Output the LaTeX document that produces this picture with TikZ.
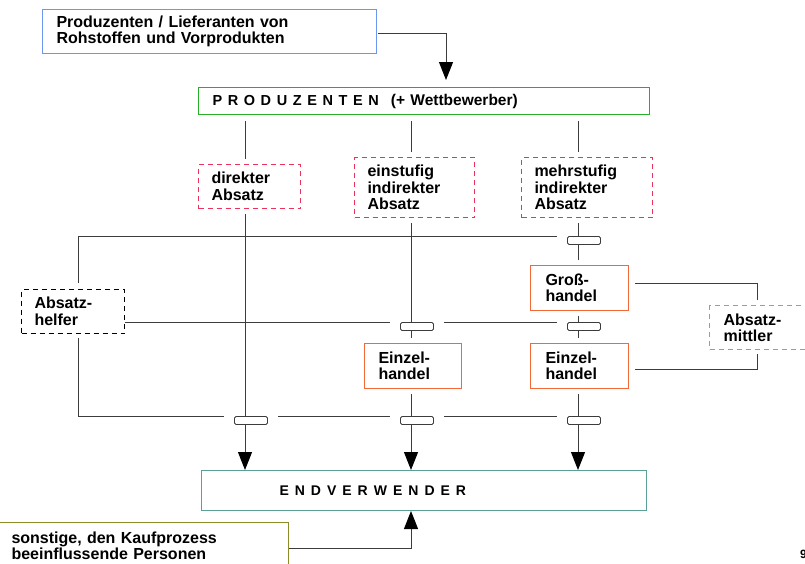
\documentclass[tikz,border=0pt]{standalone}
\usepackage{fontspec}
\setmainfont{Liberation Sans}
\usetikzlibrary{arrows.meta,backgrounds}

\definecolor{lineC}{RGB}{60,60,60}
\definecolor{supC}{RGB}{110,150,240}
\definecolor{prodC}{RGB}{40,175,40}
\definecolor{wayC}{RGB}{235,50,90}
\definecolor{tradeC}{RGB}{240,105,55}
\definecolor{agentC}{RGB}{245,125,80}
\definecolor{endC}{RGB}{90,160,150}
\definecolor{otherC}{RGB}{140,140,40}

% spaced capitals
\newcommand\lgap{\kern5.6pt}
\newcommand\egap{\kern6pt}

\begin{document}
\begin{tikzpicture}[x=1pt,y=-1pt,
  txt/.style={font=\fontsize{16}{16.5}\selectfont\bfseries},
  box/.style={txt, draw, line width=1pt, rectangle, anchor=north west,
    align=left, inner ysep=0pt, fill=white},
  dbox/.style={box, dash pattern=on 5pt off 4pt},
  gate/.style={draw=lineC, line width=0.9pt, fill=white, rounded corners=1.5pt,
    anchor=north west, minimum width=33pt, minimum height=8pt, inner sep=0pt},
  conn/.style={draw=lineC, line width=1pt},
  arr/.style={-{Triangle[length=18pt,width=14pt,color=black]}}]

\useasboundingbox (0,0) rectangle (805,563);

% boxes
\node[box, draw=supC, minimum width=334pt, minimum height=44pt, text width=306pt, inner xsep=14pt]
  (sup) at (42,9) {Produzenten / Lieferanten von\\Rohstoffen und Vorprodukten};
\node[box, draw=prodC, minimum width=451pt, minimum height=27pt, text width=423pt, inner xsep=14pt]
  (prod) at (198,87) {{\fontsize{14.5}{16}\selectfont P\lgap R\lgap O\lgap D\lgap U\lgap Z\lgap E\lgap N\lgap T\lgap E\lgap N}\hspace{12pt}{\fontsize{15.5}{16}\selectfont (+ Wettbewerber)}};

\node[dbox, draw=wayC, minimum width=102pt, minimum height=44pt, text width=76pt, inner xsep=13pt]
  (dir) at (198,164) {direkter\\Absatz};
\node[dbox, draw=wayC, minimum width=120pt, minimum height=60pt, text width=94pt, inner xsep=13pt]
  (ein) at (354,157) {einstufig\\indirekter\\Absatz};
\node[dbox, draw=wayC, minimum width=131pt, minimum height=60pt, text width=105pt, inner xsep=13pt]
  (mehr) at (521,157) {mehrstufig\\indirekter\\Absatz};

\node[dbox, draw=black, minimum width=103pt, minimum height=44pt, text width=77pt, inner xsep=13pt]
  (helfer) at (21,289) {Absatz-\\helfer};

\node[box, draw=tradeC, minimum width=98pt, minimum height=45pt, text width=68pt, inner xsep=15pt]
  (gross) at (530,265) {Groß-\\handel};
\node[box, draw=tradeC, minimum width=97pt, minimum height=45pt, text width=69pt, inner xsep=14pt]
  (ezm) at (364,343) {Einzel-\\handel};
\node[box, draw=tradeC, minimum width=98pt, minimum height=45pt, text width=68pt, inner xsep=15pt]
  (ezr) at (530,343) {Einzel-\\handel};

\node[dbox, draw=agentC, line width=1.2pt, minimum width=100pt, minimum height=44pt, text width=72pt, inner xsep=14pt]
  (mittler) at (709,305) {Absatz-\\mittler};

\node[box, draw=endC, minimum width=445pt, minimum height=40pt, text width=289pt, inner xsep=78pt]
  (end) at (201,470) {{\fontsize{14}{16}\selectfont E\egap N\egap D\egap V\egap E\egap R\egap W\egap E\egap N\egap D\egap E\egap R}};

\node[box, draw=otherC, minimum width=290pt, minimum height=47pt, text width=264pt, inner xsep=13pt]
  (sonst) at (-2,522) {sonstige, den Kaufprozess\\beeinflussende Personen};

\node[txt, font=\fontsize{12}{12}\selectfont\bfseries, anchor=base west, inner sep=0pt]
  (pg) at (800,558) {9};

% gates on the channel lines
\node[gate] (g1) at (567,236) {};
\node[gate] (g2) at (400,322) {};
\node[gate] (g3) at (567,322) {};
\node[gate] (g4) at (234,416) {};
\node[gate] (g5) at (400,416) {};
\node[gate] (g6) at (567,416) {};

% column and helper positions
\coordinate (c1) at (245,0);
\coordinate (c2) at (411,0);
\coordinate (c3) at (578,0);
\coordinate (hx) at (78,0);
\coordinate (mx) at (757,0);
\coordinate (ax) at (446,0);

\begin{scope}[on background layer]
  % supply into producers
  \draw[conn, arr, shorten <=1pt, shorten >=7pt] ([yshift=-2pt]sup.east) -| (prod.north -| ax);
  % direct channel
  \draw[conn, shorten <=6pt, shorten >=5pt] (prod.south -| c1) -- (dir.north -| c1);
  \draw[conn, arr, shorten <=5pt] (dir.south -| c1) -- (end.north -| c1);
  % one-stage channel
  \draw[conn, shorten <=6pt, shorten >=5pt] (prod.south -| c2) -- (ein.north -| c2);
  \draw[conn, shorten <=5pt, shorten >=5pt] (ein.south -| c2) -- (ezm.north -| c2);
  \draw[conn, arr, shorten <=5pt] (ezm.south -| c2) -- (end.north -| c2);
  % multi-stage channel
  \draw[conn, shorten <=6pt, shorten >=5pt] (prod.south -| c3) -- (mehr.north -| c3);
  \draw[conn, shorten <=5pt, shorten >=5pt] (mehr.south -| c3) -- (gross.north -| c3);
  \draw[conn, shorten <=5pt, shorten >=5pt] (gross.south -| c3) -- (ezr.north -| c3);
  \draw[conn, arr, shorten <=5pt] (ezr.south -| c3) -- (end.north -| c3);
  % sales helpers
  \draw[conn, shorten <=6pt, shorten >=10pt] (helfer.north -| hx) |- (g1.north west);
  \draw[conn, shorten >=10pt] (helfer.east |- g2.north) -- (g2.north west);
  \draw[conn, shorten <=10pt, shorten >=10pt] (g2.north east) -- (g3.north west);
  \draw[conn, shorten <=4pt, shorten >=10pt] (helfer.south -| hx) |- (g4.north west);
  \draw[conn, shorten <=10pt, shorten >=10pt] (g4.north east) -- (g5.north west);
  \draw[conn, shorten <=10pt, shorten >=10pt] (g5.north east) -- (g6.north west);
  % sales intermediaries
  \draw[conn, shorten <=6pt, shorten >=5pt] ([yshift=4.5pt]gross.east) -| (mittler.north -| mx);
  \draw[conn, shorten <=6pt, shorten >=4pt] ([yshift=-3.5pt]ezr.east) -| (mittler.south -| mx);
  % other influencers
  \draw[conn, arr] ([yshift=-2.5pt]sonst.east) -| (end.south -| c2);
\end{scope}
\end{tikzpicture}
\end{document}
